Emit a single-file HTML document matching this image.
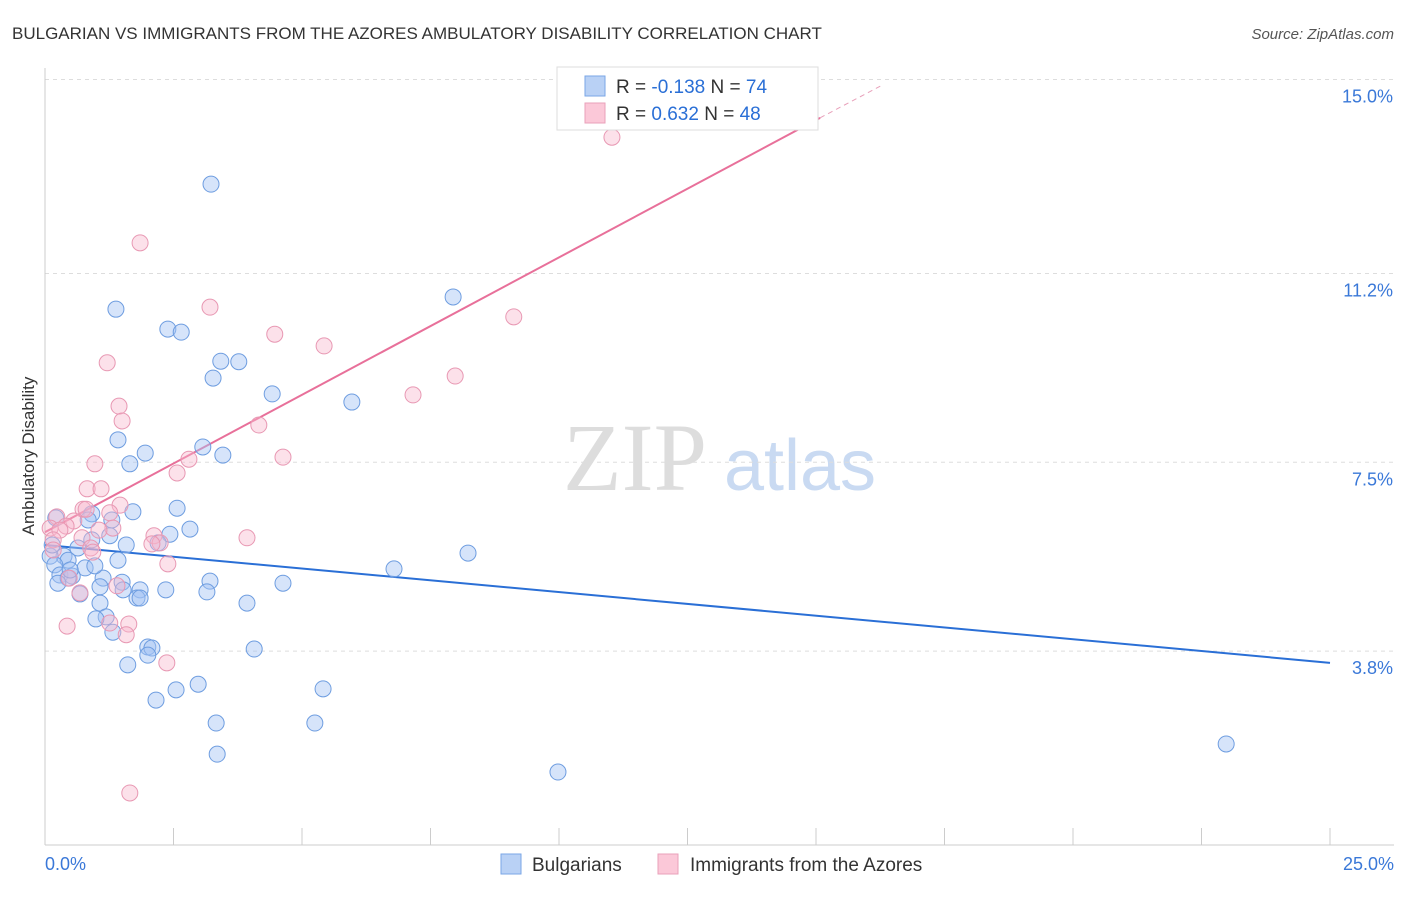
<!DOCTYPE html>
<html><head><meta charset="utf-8"><style>
body{margin:0;background:#fff;font-family:"Liberation Sans",sans-serif}
svg text{font-family:"Liberation Sans",sans-serif}
</style></head><body>
<svg id="chart" width="1406" height="892" viewBox="0 0 1406 892" xmlns="http://www.w3.org/2000/svg">
<text x="12" y="39" font-size="17" fill="#333">BULGARIAN VS IMMIGRANTS FROM THE AZORES AMBULATORY DISABILITY CORRELATION CHART</text>
<text x="1394" y="39" font-size="15" fill="#555" text-anchor="end" font-style="italic">Source: ZipAtlas.com</text>
<g>
<text x="635" y="490" font-size="96" fill="#ddd" font-family="Liberation Serif" text-anchor="middle" style="font-family:'Liberation Serif',serif">ZIP</text>
<text x="800" y="490" font-size="72" fill="#c9daf2" text-anchor="middle">atlas</text>
</g>
<g id="grid"></g><g id="axes"></g><g id="lines"></g><g id="points"></g>
<text transform="translate(34,456) rotate(-90)" font-size="17" fill="#333" text-anchor="middle">Ambulatory Disability</text>
<g>
<rect x="557" y="67" width="261" height="63" fill="#fff" stroke="#ddd"/>
<rect x="585" y="76" width="20" height="20" fill="#b9d1f5" stroke="#7aa6e6"/>
<rect x="585" y="103" width="20" height="20" fill="#fbc8d8" stroke="#eaa0ba"/>
<text x="616" y="93" font-size="19" fill="#333">R = <tspan fill="#2a6fd6">-0.138</tspan>   N = <tspan fill="#2a6fd6">74</tspan></text>
<text x="616" y="120" font-size="19" fill="#333">R =  <tspan fill="#2a6fd6">0.632</tspan>   N = <tspan fill="#2a6fd6">48</tspan></text>
</g>
<g>
<rect x="501" y="854" width="20" height="20" fill="#b9d1f5" stroke="#7aa6e6"/>
<text x="532" y="871" font-size="19" fill="#333">Bulgarians</text>
<rect x="658" y="854" width="20" height="20" fill="#fbc8d8" stroke="#eaa0ba"/>
<text x="690" y="871" font-size="19" fill="#333">Immigrants from the Azores</text>
</g>
</svg>
<script>
const blueX=[3.23,1.38,2.39,2.65,7.94,3.42,3.77,3.27,4.42,5.97,1.42,3.07,1.95,3.46,1.65,2.57,1.71,0.91,0.84,1.30,0.21,2.82,2.43,1.26,0.91,1.58,2.20,0.64,0.37,0.45,8.23,0.10,0.19,0.78,6.79,0.29,0.53,0.45,1.13,0.25,1.50,3.21,4.63,1.07,1.85,1.52,2.35,0.68,3.15,1.79,1.85,1.07,3.93,1.19,0.99,1.32,2.00,2.08,2.00,4.07,1.61,2.98,2.55,5.41,2.16,3.33,5.25,3.35,22.98,9.98,0.14,0.49,1.42,0.97];
const blueY=[12.95,10.50,10.11,10.05,10.74,9.48,9.47,9.15,8.84,8.68,7.94,7.80,7.68,7.64,7.47,6.60,6.53,6.49,6.37,6.37,6.41,6.19,6.09,6.06,5.98,5.88,5.92,5.82,5.66,5.58,5.72,5.66,5.49,5.43,5.41,5.29,5.27,5.23,5.23,5.13,5.15,5.17,5.13,5.06,5.00,5.00,5.00,4.92,4.96,4.84,4.84,4.74,4.74,4.47,4.43,4.17,3.88,3.86,3.72,3.84,3.53,3.15,3.04,3.06,2.84,2.39,2.39,1.78,1.98,1.43,5.88,5.39,5.58,5.47];
const pinkX=[11.03,1.85,3.21,4.47,5.43,9.12,1.21,7.98,7.16,1.44,1.50,4.16,0.97,4.63,2.80,2.57,0.82,1.09,1.46,0.74,0.80,1.26,0.23,0.56,0.41,0.10,0.29,1.32,1.05,2.12,3.93,0.72,0.16,2.24,2.08,0.89,0.93,2.39,0.47,1.40,0.68,0.43,1.26,1.63,1.58,2.37,1.65,0.16];
const pinkY=[13.87,11.80,10.54,10.01,9.78,10.35,9.45,9.19,8.82,8.60,8.31,8.23,7.47,7.60,7.56,7.29,6.98,6.98,6.66,6.58,6.58,6.51,6.43,6.35,6.25,6.21,6.17,6.21,6.17,6.06,6.02,6.02,5.98,5.92,5.90,5.82,5.74,5.51,5.23,5.08,4.94,4.29,4.35,4.33,4.12,3.57,1.02,5.78];
const yTicks=[15.0,11.2,7.5,3.8];
const yTickLabels=["15.0%","11.2%","7.5%","3.8%"];
const xTicks=[0,2.5,5,7.5,10,12.5,15,17.5,20,22.5,25];
const blueTrend=[5.88,3.57];
const pinkTrend=[6.13,14.25,14.87];
const pinkTrendX=[0,15.08,16.25];

const NS="http://www.w3.org/2000/svg";
const sx=v=>45+v*51.4;
const sy=v=>845-v*51.03;
function mk(tag,attrs,parent){const e=document.createElementNS(NS,tag);for(const k in attrs)e.setAttribute(k,attrs[k]);document.getElementById(parent).appendChild(e);return e;}
yTicks.forEach((t,i)=>{
  const g=mk('line',{x1:45,x2:1394,y1:sy(t===15?15.0:t*1.0)+0,y2:sy(t),stroke:'#ddd','stroke-dasharray':'4,4'},'grid');
  
  
  const tx=mk('text',{x:1393,y:sy(t)+23,'font-size':18,fill:'#3a78d8','text-anchor':'end'},'axes');
  tx.textContent=yTickLabels[i];
  
  
});
const ax=mk('line',{x1:45,x2:1394,y1:845,y2:845,stroke:'#ccc'},'axes');


const ay=mk('line',{x1:45,x2:45,y1:68,y2:845,stroke:'#ccc'},'axes');


xTicks.forEach(t=>{
  const l=mk('line',{x1:sx(t),x2:sx(t),y1:828,y2:845,stroke:'#ccc'},'axes');
  
  
});
const xl0=mk('text',{x:45,y:870,'font-size':18,fill:'#3a78d8'},'axes');xl0.textContent='0.0%';


const xl1=mk('text',{x:1394,y:870,'font-size':18,fill:'#3a78d8','text-anchor':'end'},'axes');xl1.textContent='25.0%';



blueX.forEach((x,i)=>{
  const c=mk('circle',{cx:sx(x),cy:sy(blueY[i]),r:8,fill:'rgba(164,196,244,0.45)',stroke:'#6e9de0','stroke-width':1},'points');
  
  
});
pinkX.forEach((x,i)=>{
  const c=mk('circle',{cx:sx(x),cy:sy(pinkY[i]),r:8,fill:'rgba(248,184,204,0.42)',stroke:'#e898b3','stroke-width':1},'points');
  
  
});
const bl=mk('line',{x1:sx(0),y1:sy(blueTrend[0]),x2:sx(25),y2:sy(blueTrend[1]),stroke:'#2a6fd6','stroke-width':2},'lines');


const pl=mk('line',{x1:sx(pinkTrendX[0]),y1:sy(pinkTrend[0]),x2:sx(pinkTrendX[1]),y2:sy(pinkTrend[1]),stroke:'#e8709a','stroke-width':2},'lines');


const pd=mk('line',{x1:sx(pinkTrendX[1]),y1:sy(pinkTrend[1]),x2:sx(pinkTrendX[2]),y2:sy(pinkTrend[2]),stroke:'#e8a0ba','stroke-width':1,'stroke-dasharray':'5,4'},'lines');


</script>
</body></html>
